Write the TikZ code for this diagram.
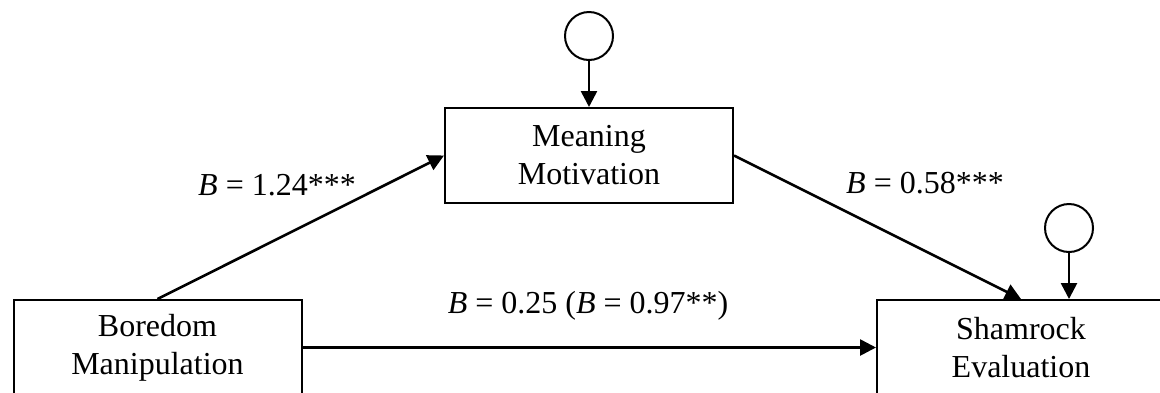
\documentclass[tikz,border=0pt]{standalone}
\usepackage{fontspec}
\setmainfont{Liberation Serif}
\usetikzlibrary{arrows.meta}

\tikzset{
    varbox/.style={draw, line width=1pt, minimum width=144pt, minimum height=47.5pt,
        inner sep=0pt, align=center, font=\fontsize{16}{19}\selectfont},
    errcirc/.style={draw, circle, line width=1pt, minimum size=24pt, inner sep=0pt},
    path/.style={line width=1.3pt, -{Triangle[length=8pt,width=8pt]}},
    coef/.style={font=\fontsize{16}{19}\selectfont, inner sep=0pt}
}

\begin{document}
\begin{tikzpicture}[x=0.5pt, y=-0.5pt]

    \clip (0,0) rectangle (1160,392);

    % Variables
    \node[varbox] (bm) at (157.5,347.5) {Boredom\\Manipulation};
    \node[varbox] (mm) at (589,155.5) {Meaning\\Motivation};
    \node[varbox] (se) at (1021,347.5) {Shamrock\\Evaluation};

    % Error terms
    \node[errcirc] (e1) at (589,36) {};
    \node[errcirc] (e2) at (1069,228) {};

    \draw[path] (e1) -- (mm);
    \draw[path] (e2) -- (e2 |- se.north);

    % Paths
    \draw[path] (bm.north) -- (mm.west);
    \draw[path] (mm.east) -- (se.north);
    \draw[path] (bm) -- (se);

    % Coefficients
    \node[coef] (ca) at (277,185) {\textit{B} = 1.24***};
    \node[coef] (cb) at (925,183) {\textit{B} = 0.58***};
    \node[coef] (cc) at (588,306) {\textit{B} = 0.25 (\textit{B} = 0.97**)};

\end{tikzpicture}
\end{document}
